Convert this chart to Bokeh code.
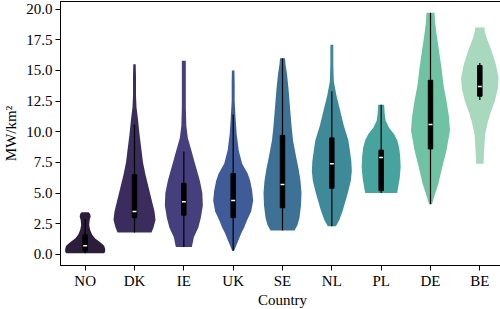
import numpy as np
from bokeh.plotting import figure
from bokeh.models import FixedTicker
from bokeh.embed import file_html
from bokeh.resources import INLINE

countries = ["NO", "DK", "IE", "UK", "SE", "NL", "PL", "DE", "BE"]
colors = ["#2c1d3a", "#3a2c5c", "#463f7e", "#3f5c98", "#3d7196",
          "#3f8a99", "#47a39e", "#6fc3a4", "#a8d8bd"]

# violin density profiles (value, relative density)
NO_y = [0.1, 0.25, 0.45, 0.7, 1.0, 1.3, 1.6, 2.0, 2.4, 2.8, 3.1, 3.3, 3.45]
NO_d = [19, 20, 20, 19, 15, 10, 7, 5, 4, 4.5, 5.5, 5, 3.5]
DK_y = [1.8, 2.2, 2.8, 3.5, 4.5, 5.5, 6.5, 7.5, 8.5, 9.8, 11, 12, 13, 14.5, 15.5]
DK_d = [17, 19, 21, 20, 17, 14, 11, 8.5, 7, 5, 3.5, 2, 1.5, 1.5, 1.2]
IE_y = [0.6, 1.0, 1.4, 2.2, 3.0, 4.0, 5.0, 6.0, 6.6, 7.6, 8.5, 9.5, 10.5, 12, 14, 15.8]
IE_d = [8, 9, 10, 14.5, 17, 19, 18.5, 16, 14, 10.5, 7.5, 4, 2.5, 2, 2, 2]
UK_y = [0.3, 0.7, 1.2, 1.7, 2.2, 2.8, 3.5, 4.4, 5.2, 6.0, 6.6, 7.4, 8.5, 9.8, 11, 12.5, 14, 15]
UK_d = [1, 3, 5.5, 8, 11, 14, 18, 20, 19, 17, 14.5, 9, 5.5, 3.5, 2.5, 1.5, 1.5, 1.3]
SE_y = [1.95, 2.4, 3.0, 4.0, 5.0, 6.0, 7.0, 8.0, 9.3, 10.5, 12.0, 13.5, 14.7, 15.5, 16.0]
SE_d = [12, 15, 17, 18.5, 19, 18, 16, 13.5, 10.5, 9, 7.5, 6, 4.5, 3, 2.5]
NL_y = [2.3, 2.8, 3.6, 5.0, 6.0, 6.8, 7.6, 8.5, 9.3, 10.5, 12.0, 13.0, 14.1, 15.5, 17.1]
NL_d = [4, 7.5, 11, 16, 19, 20, 19.5, 18, 16.5, 12, 7.5, 4.5, 2, 1.5, 1.5]
PL_y = [5.0, 5.5, 6.2, 7.1, 8.0, 8.7, 9.3, 9.8, 10.3, 10.9, 11.5, 12.2]
PL_d = [16, 17, 18.5, 19.5, 19, 18, 16, 13, 8, 4.5, 3.5, 3]
DE_y = [4.1, 4.6, 5.8, 7.1, 8.5, 10.1, 11.2, 12.5, 13.8, 15.2, 16.6, 18.0, 19.0, 19.7]
DE_d = [1.5, 3.3, 8, 11.7, 16, 19.5, 18.5, 16, 13, 11, 8.5, 6, 4.5, 4]
BE_y = [7.4, 8.5, 9.8, 10.8, 11.5, 12.5, 13.5, 14.4, 15.5, 16.6, 17.6, 18.2, 18.5]
BE_d = [3.7, 4.3, 5.3, 8, 10.5, 15, 18, 18.7, 16, 11.7, 7, 5, 4.7]

profiles_y = [NO_y, DK_y, IE_y, UK_y, SE_y, NL_y, PL_y, DE_y, BE_y]
profiles_d = [NO_d, DK_d, IE_d, UK_d, SE_d, NL_d, PL_d, DE_d, BE_d]

# box statistics
q1 = [0.3, 3.0, 3.2, 3.0, 3.8, 5.4, 5.2, 8.6, 12.9]
median = [0.7, 3.5, 4.3, 4.4, 5.7, 7.4, 7.9, 10.6, 13.7]
q3 = [1.6, 6.5, 5.8, 6.6, 9.7, 9.5, 8.5, 14.2, 15.4]
wlo = [0.1, 1.8, 0.6, 0.3, 1.95, 2.3, 5.0, 4.1, 12.6]
whi = [2.9, 10.6, 8.4, 11.4, 16.0, 13.3, 12.2, 19.7, 15.6]

yticks = [0.0, 2.5, 5.0, 7.5, 10.0, 12.5, 15.0, 17.5, 20.0]

FONT = "Liberation Serif"

p = figure(frame_width=444, frame_height=264, output_backend="svg", toolbar_location=None,
           x_range=(-0.5, 8.5), y_range=(-0.9, 20.62))
p.min_border_left = 55
p.min_border_right = 1
p.min_border_top = 1
p.min_border_bottom = 44
p.outline_line_color = "black"
p.outline_line_width = 1
p.xgrid.visible = False
p.ygrid.visible = False

scale = 1.0 / 49.33  # density units -> category widths
for i, (ys, ds) in enumerate(zip(profiles_y, profiles_d)):
    ys = np.array(ys)
    ds = np.array(ds) * scale
    p.harea(x1=i - ds, x2=i + ds, y=ys, fill_color=colors[i], fill_alpha=1.0)

xs = list(range(len(countries)))
p.segment(x0=xs, x1=xs, y0=wlo, y1=whi, line_color="black", line_width=1.2)
p.vbar(x=xs, bottom=q1, top=q3, width=0.09, fill_color="black", line_color="black")
p.segment(x0=[x - 0.04 for x in xs], x1=[x + 0.04 for x in xs], y0=median, y1=median,
          line_color="white", line_width=1.5)

p.xaxis.ticker = FixedTicker(ticks=xs)
p.xaxis.major_label_overrides = {i: c for i, c in enumerate(countries)}
p.yaxis.ticker = FixedTicker(ticks=yticks)
p.yaxis.major_label_overrides = {t: f"{t:.1f}" for t in yticks}
p.xaxis.axis_label = "Country"
p.yaxis.axis_label = "MW/km²"
for ax in (p.xaxis, p.yaxis):
    ax.axis_label_text_font = FONT
    ax.axis_label_text_font_style = "normal"
    ax.axis_label_text_font_size = "15px"
    ax.major_label_text_font = FONT
    ax.major_label_text_font_size = "15px"
    ax.major_label_text_color = "black"
    ax.axis_label_text_color = "black"
    ax.minor_tick_line_color = None
    ax.major_tick_in = 0
    ax.major_tick_out = 5
    ax.major_tick_line_color = "black"
    ax.axis_line_color = "black"
p.xaxis.major_label_standoff = 2
p.xaxis.axis_label_standoff = 0
p.yaxis.major_label_standoff = 3
p.yaxis.axis_label_standoff = 4

open("out.html", "w").write(file_html(p, INLINE))
